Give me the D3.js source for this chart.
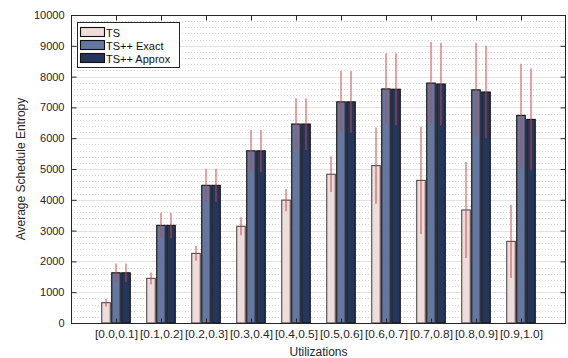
<!DOCTYPE html>
<html>
<head>
<meta charset="utf-8">
<script src="https://cdn.jsdelivr.net/npm/d3@7"></script>
<style>
  body { margin: 0; background: #fff; }
  svg { display: block; }
  svg text { font-family: "Liberation Sans", Arial, Helvetica, sans-serif; }
</style>
</head>
<body>
<svg id="chart" width="568" height="358"></svg>
<script>
// Utilization buckets along the x axis
const categories = ["[0.0,0.1]", "[0.1,0.2]", "[0.2,0.3]", "[0.3,0.4]", "[0.4,0.5]",
                    "[0.5,0.6]", "[0.6,0.7]", "[0.7,0.8]", "[0.8,0.9]", "[0.9,1.0]"];
const seriesNames = ["TS", "TS++ Exact", "TS++ Approx"];

// Mean schedule entropy per bucket
const tsMean     = [660, 1450, 2260, 3140, 3990, 4830, 5110, 4630, 3670, 2650];
const exactMean  = [1630, 3170, 4470, 5590, 6460, 7180, 7600, 7790, 7570, 6740];
const approxMean = [1630, 3170, 4470, 5590, 6460, 7180, 7590, 7760, 7500, 6610];

// Standard deviation (error bar half-length)
const tsStd     = [125, 190, 240, 290, 360, 580, 1240, 1740, 1560, 1190];
const exactStd  = [300, 410, 540, 680, 840, 1000, 1160, 1330, 1530, 1680];
const approxStd = [300, 410, 540, 680, 840, 1000, 1170, 1340, 1500, 1650];

const yTicks = [0, 1000, 2000, 3000, 4000, 5000, 6000, 7000, 8000, 9000, 10000];

const colors = ["#f1dcdc", "#6377a0", "#24375b"];
const means = [tsMean, exactMean, approxMean];
const stds = [tsStd, exactStd, approxStd];

const svg = d3.select("#chart");
const m = { left: 71, right: 566, top: 15, bottom: 323 };
const fontFam = '"Liberation Sans", Arial, Helvetica, sans-serif';

const x = d3.scaleLinear().domain([0, 11]).range([m.left, m.right]);
const y = d3.scaleLinear().domain([0, 10000]).range([m.bottom, m.top]);

// Minor dotted grid
const minor = d3.range(0, 10001, 200).filter(v => v % 1000 !== 0);
svg.append("g").selectAll("line").data(minor).join("line")
  .attr("x1", m.left).attr("x2", m.right)
  .attr("y1", d => Math.round(y(d)) + 0.5).attr("y2", d => Math.round(y(d)) + 0.5)
  .attr("stroke", "#d4d4d4").attr("stroke-width", 1).attr("stroke-dasharray", "1,2");

// Major grid
svg.append("g").selectAll("line").data(yTicks).join("line")
  .attr("x1", m.left).attr("x2", m.right)
  .attr("y1", d => Math.round(y(d)) + 0.5).attr("y2", d => Math.round(y(d)) + 0.5)
  .attr("stroke", "#e3e3e3").attr("stroke-width", 1);

// Bars
const offset = 0.222, bw = 0.19;
const rows = [];
categories.forEach((c, i) => {
  seriesNames.forEach((s, j) => {
    rows.push({ i, j, v: means[j][i], sd: stds[j][i], cx: (i + 1) + (j - 1) * offset });
  });
});

svg.append("g").selectAll("rect").data(rows).join("rect")
  .attr("x", d => x(d.cx - bw / 2))
  .attr("width", d => x(d.cx + bw / 2) - x(d.cx - bw / 2))
  .attr("y", d => y(d.v))
  .attr("height", d => y(0) - y(d.v))
  .attr("fill", d => colors[d.j])
  .attr("stroke", d => d.j === 0 ? "#4a4a4a" : "#111")
  .attr("stroke-width", 1.1);

// Error bars
svg.append("g").selectAll("line").data(rows).join("line")
  .attr("x1", d => x(d.cx)).attr("x2", d => x(d.cx))
  .attr("y1", d => y(d.v + d.sd)).attr("y2", d => y(d.v - d.sd))
  .attr("stroke", "#cc4444").attr("stroke-opacity", 0.65).attr("stroke-width", 1.5);

// Axes box
const axisColor = "#262626";
svg.append("rect")
  .attr("x", m.left + 0.5).attr("y", m.top + 0.5)
  .attr("width", m.right - m.left - 1).attr("height", m.bottom - m.top)
  .attr("fill", "none").attr("stroke", axisColor).attr("stroke-width", 1);

// Y axis (left) with inward ticks
const yAxis = d3.axisLeft(y).tickValues(yTicks).tickSize(-5).tickPadding(7).tickFormat(d3.format("d"));
const gy = svg.append("g").attr("transform", `translate(${m.left + 0.5},0)`).call(yAxis);
gy.attr("font-family", fontFam).attr("font-size", 11);
gy.select(".domain").remove();
gy.selectAll("line").attr("stroke", axisColor);
gy.selectAll("text").attr("fill", "#262626");

// Y axis (right) ticks
const gyr = svg.append("g").attr("transform", `translate(${m.right - 0.5},0)`)
  .call(d3.axisRight(y).tickValues(yTicks).tickSize(-5).tickFormat(""));
gyr.select(".domain").remove();
gyr.selectAll("line").attr("stroke", axisColor);

// X axis (bottom) with inward ticks
const xTickVals = d3.range(1, categories.length + 1);
const xAxis = d3.axisBottom(x).tickValues(xTickVals).tickSize(-5).tickPadding(7)
  .tickFormat(d => categories[d - 1]);
const gx = svg.append("g").attr("transform", `translate(0,${m.bottom + 0.5})`).call(xAxis);
gx.attr("font-family", fontFam).attr("font-size", 11);
gx.select(".domain").remove();
gx.selectAll("line").attr("stroke", axisColor);
gx.selectAll("text").attr("fill", "#262626")
  .attr("textLength", 43).attr("lengthAdjust", "spacingAndGlyphs");

// X axis (top) ticks
const gxt = svg.append("g").attr("transform", `translate(0,${m.top + 0.5})`)
  .call(d3.axisTop(x).tickValues(xTickVals).tickSize(-5).tickFormat(""));
gxt.select(".domain").remove();
gxt.selectAll("line").attr("stroke", axisColor);

// Axis titles
svg.append("text")
  .attr("x", (m.left + m.right) / 2).attr("y", 356)
  .attr("text-anchor", "middle").attr("font-size", 12).attr("fill", "#262626")
  .text("Utilizations");
svg.append("text")
  .attr("transform", `translate(25,${(m.top + m.bottom) / 2}) rotate(-90)`)
  .attr("text-anchor", "middle").attr("font-size", 12).attr("fill", "#262626")
  .text("Average Schedule Entropy");

// Legend
const lg = svg.append("g");
lg.append("rect")
  .attr("x", 77.5).attr("y", 22.5).attr("width", 102).attr("height", 45)
  .attr("fill", "#fff").attr("stroke", "#262626").attr("stroke-width", 1);
seriesNames.forEach((s, j) => {
  const yy = 27 + j * 13;
  lg.append("rect")
    .attr("x", 80.5).attr("y", yy + 0.5).attr("width", 24).attr("height", 9)
    .attr("fill", colors[j]).attr("stroke", "#111").attr("stroke-width", 1.1);
  lg.append("text")
    .attr("x", 106).attr("y", yy + 9.5)
    .attr("font-size", 11).attr("fill", "#111")
    .text(s);
});
</script>
</body>
</html>
